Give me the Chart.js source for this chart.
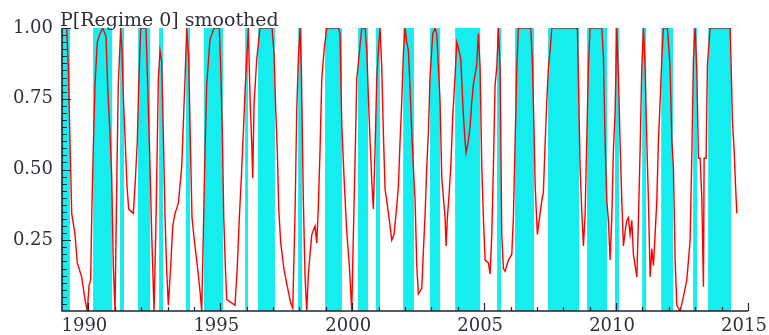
<!DOCTYPE html>
<html>
<head>
<meta charset="utf-8">
<script src="https://cdn.jsdelivr.net/npm/chart.js@4/dist/chart.umd.min.js"></script>
<style>
  html, body { margin: 0; padding: 0; background: #ffffff; }
  #wrap { width: 769px; height: 335px; position: relative; }
</style>
</head>
<body>
<div id="wrap"><canvas id="c" width="769" height="335"></canvas></div>
<script>
// ---- Data ----
const chartTitle = "P[Regime 0] smoothed";

// Smoothed probability of regime 0: time (decimal year) and value
const probYears = [
  1989.038,1989.178,1989.239,1989.303,1989.368,1989.493,1989.580,1989.747,1989.872,1989.959,
  1990.024,1990.088,1990.126,1990.187,1990.251,1990.338,1990.441,1990.543,1990.668,1990.732,
  1990.820,1990.884,1990.945,1991.009,1991.074,1991.134,1991.225,1991.274,1991.324,1991.400,
  1991.464,1991.528,1991.703,1991.779,1991.854,1991.908,1991.983,1992.184,1992.234,1992.336,
  1992.400,1992.488,1992.552,1992.601,1992.651,1992.715,1992.779,1992.840,1992.905,1992.969,
  1993.030,1993.121,1993.196,1993.284,1993.409,1993.538,1993.598,1993.663,1993.727,1993.803,
  1993.864,1993.928,1994.015,1994.129,1994.231,1994.296,1994.356,1994.421,1994.485,1994.610,
  1994.762,1994.963,1995.016,1995.077,1995.130,1995.190,1995.243,1995.558,1995.645,1995.721,
  1995.797,1995.873,1995.949,1996.002,1996.062,1996.127,1996.191,1996.229,1996.278,1996.381,
  1996.506,1996.961,1997.037,1997.101,1997.162,1997.215,1997.291,1997.416,1997.541,1997.670,
  1997.745,1997.833,1997.897,1997.958,1998.022,1998.071,1998.109,1998.147,1998.212,1998.276,
  1998.337,1998.401,1998.466,1998.591,1998.655,1998.716,1998.780,1998.845,1998.932,1999.034,
  1999.474,1999.538,1999.603,1999.690,1999.792,1999.891,1999.982,2000.043,2000.107,2000.172,
  2000.297,2000.361,2000.486,2000.551,2000.611,2000.676,2000.740,2000.801,2000.865,2000.930,
  2000.990,2001.055,2001.119,2001.180,2001.244,2001.309,2001.434,2001.498,2001.585,2001.688,
  2001.749,2001.813,2001.877,2001.938,2002.002,2002.067,2002.128,2002.192,2002.256,2002.317,
  2002.382,2002.446,2002.507,2002.636,2002.696,2002.761,2002.825,2002.886,2002.950,2003.053,
  2003.140,2003.204,2003.329,2003.394,2003.519,2003.557,2003.606,2003.670,2003.735,2003.811,
  2003.898,2003.962,2004.023,2004.114,2004.213,2004.277,2004.315,2004.402,2004.466,2004.531,
  2004.592,2004.720,2004.781,2004.846,2004.910,2004.971,2005.035,2005.160,2005.225,2005.289,
  2005.350,2005.414,2005.479,2005.539,2005.604,2005.668,2005.729,2005.793,2005.919,2006.047,
  2006.108,2006.172,2006.237,2006.298,2006.768,2006.828,2006.893,2006.931,2006.968,2007.018,
  2007.056,2007.120,2007.185,2007.245,2007.310,2007.374,2007.435,2007.499,2007.564,2008.534,
  2008.587,2008.636,2008.701,2008.762,2008.826,2008.891,2008.951,2009.015,2009.459,2009.520,
  2009.584,2009.649,2009.709,2009.774,2009.838,2009.899,2009.963,2010.028,2010.089,2010.153,
  2010.217,2010.278,2010.342,2010.407,2010.467,2010.532,2010.596,2010.657,2010.721,2010.786,
  2010.847,2010.911,2010.975,2011.036,2011.100,2011.165,2011.226,2011.290,2011.354,2011.415,
  2011.479,2011.544,2011.605,2011.669,2011.733,2011.794,2011.946,2011.984,2012.048,2012.113,
  2012.173,2012.238,2012.302,2012.427,2012.552,2012.681,2012.806,2012.871,2012.932,2012.996,
  2013.060,2013.121,2013.185,2013.250,2013.311,2013.337,2013.413,2013.462,2013.564,2014.323,
  2014.360,2014.410,2014.474,2014.524,2014.577
];
const probValues = [
  1.00,1.00,0.86,0.60,0.345,0.27,0.17,0.12,0.04,0.00,
  0.09,0.11,0.33,0.58,0.80,0.95,0.98,1.00,0.97,0.79,
  0.63,0.47,0.16,0.00,0.44,0.80,1.00,0.92,0.76,0.59,
  0.44,0.36,0.345,0.46,0.60,0.80,1.00,1.00,0.84,0.51,
  0.27,0.00,0.27,0.53,0.82,0.92,0.88,0.63,0.33,0.14,
  0.02,0.16,0.30,0.345,0.38,0.51,0.66,0.82,1.00,0.89,
  0.60,0.33,0.25,0.16,0.07,0.00,0.27,0.57,0.80,0.96,
  1.00,1.00,0.86,0.63,0.33,0.16,0.04,0.02,0.16,0.33,
  0.47,0.63,0.80,0.89,1.00,0.75,0.59,0.47,0.73,0.89,
  1.00,1.00,0.91,0.71,0.56,0.36,0.24,0.145,0.086,0.027,
  0.01,0.35,0.71,0.89,1.00,0.86,0.63,0.39,0.12,0.00,
  0.13,0.20,0.27,0.30,0.24,0.37,0.57,0.82,0.92,1.00,
  1.00,0.98,0.66,0.47,0.28,0.16,0.00,0.27,0.53,0.82,
  0.94,1.00,1.00,0.92,0.76,0.60,0.46,0.36,0.57,0.82,
  0.92,1.00,0.86,0.63,0.43,0.39,0.30,0.25,0.27,0.37,
  0.44,0.60,0.74,0.91,1.00,0.95,0.92,0.79,0.63,0.51,
  0.39,0.16,0.06,0.08,0.21,0.34,0.51,0.63,0.83,0.98,
  1.00,0.98,0.74,0.47,0.33,0.23,0.33,0.41,0.51,0.69,
  0.83,0.95,0.93,0.89,0.69,0.60,0.56,0.60,0.65,0.74,
  0.80,0.87,0.98,0.86,0.51,0.33,0.18,0.17,0.13,0.27,
  0.51,0.80,0.86,1.00,0.86,0.27,0.15,0.14,0.18,0.20,
  0.33,0.59,0.86,1.00,1.00,0.88,0.63,0.45,0.37,0.27,
  0.30,0.345,0.39,0.42,0.59,0.74,0.86,0.92,1.00,1.00,
  0.75,0.51,0.35,0.23,0.34,0.61,0.86,1.00,1.00,0.90,
  0.60,0.39,0.32,0.18,0.33,0.57,0.70,1.00,0.83,0.59,
  0.39,0.23,0.28,0.32,0.33,0.27,0.32,0.20,0.16,0.12,
  0.32,0.57,0.86,1.00,0.86,0.60,0.39,0.12,0.22,0.16,
  0.27,0.39,0.60,0.74,0.89,1.00,1.00,0.95,0.86,0.60,
  0.51,0.18,0.02,0.00,0.05,0.11,0.25,0.55,0.89,1.00,
  0.85,0.54,0.54,0.40,0.086,0.54,0.54,0.87,1.00,1.00,
  0.87,0.67,0.57,0.45,0.345
];

// Shaded periods (regime 0), start and end as decimal years
const regimeStart = [1989.00,1990.18,1991.20,1991.88,1992.68,1993.70,1994.38,1995.94,1996.43,1997.95,
                     1998.97,2000.22,2000.90,2001.93,2002.95,2003.90,2005.49,2006.17,2007.42,2008.90,
                     2009.96,2010.99,2011.71,2012.92,2013.49];
const regimeEnd   = [1989.30,1990.90,1991.35,1992.34,1992.83,1993.85,1995.10,1996.05,1997.07,1998.10,
                     1999.61,2000.60,2001.05,2002.34,2003.33,2004.85,2005.64,2006.89,2008.60,2009.66,
                     2010.11,2011.14,2012.16,2013.07,2014.36];

// Axis ticks
const xTickLabels = [1990, 1995, 2000, 2005, 2010, 2015];
const xMinorTicks = [1990,1991,1992,1993,1994,1995,1996,1997,1998,1999,2000,2001,2002,
                     2003,2004,2005,2006,2007,2008,2009,2010,2011,2012,2013,2014,2015];
const yTickLabels = [0.25, 0.50, 0.75, 1.00];
const xRange = [1989, 2015];
const yRange = [0, 1];

// ---- Build chart structures ----
const probPoints = probYears.map((x, i) => ({ x: x, y: probValues[i] }));
const shadePoints = [];
regimeStart.forEach((s, i) => {
  const e = regimeEnd[i];
  shadePoints.push({ x: s, y: 0 }, { x: s, y: 1 }, { x: e, y: 1 }, { x: e, y: 0 });
});

const FONT = "'DejaVu Serif', 'Liberation Serif', serif";
const INK = '#2e3138';

const innerTicks = {
  id: 'innerTicks',
  afterDatasetsDraw(chart) {
    const ctx = chart.ctx;
    const xs = chart.scales.x, ys = chart.scales.y;
    const area = chart.chartArea;
    ctx.save();
    ctx.strokeStyle = '#1f2430';
    // axis lines
    ctx.lineWidth = 1.6;
    ctx.beginPath();
    ctx.moveTo(area.left, area.top);
    ctx.lineTo(area.left, area.bottom);
    ctx.lineTo(area.right, area.bottom);
    ctx.stroke();
    // x ticks (pointing up into the plot)
    ctx.lineWidth = 1.2;
    ctx.beginPath();
    xMinorTicks.forEach(v => {
      const px = Math.round(xs.getPixelForValue(v)) + 0.5;
      const len = (v % 5 === 0) ? 8 : 4;
      ctx.moveTo(px, area.bottom);
      ctx.lineTo(px, area.bottom - len);
    });
    ctx.stroke();
    // y ticks (pointing right into the plot), minor every 0.025
    ctx.beginPath();
    for (let k = 1; k <= 40; k++) {
      const v = k / 40;
      const py = Math.round(ys.getPixelForValue(v)) + 0.5;
      const len = (k % 10 === 0) ? 9 : 5;
      ctx.moveTo(area.left, py);
      ctx.lineTo(area.left + len, py);
    }
    ctx.stroke();
    // title
    ctx.fillStyle = INK;
    ctx.font = '19px ' + FONT;
    ctx.textBaseline = 'alphabetic';
    ctx.textAlign = 'left';
    ctx.fillText(chartTitle, area.left - 2, area.top - 2);
    ctx.restore();
  }
};

new Chart(document.getElementById('c'), {
  type: 'scatter',
  data: {
    datasets: [
      {
        label: 'P[Regime 0] smoothed',
        data: probPoints,
        showLine: true,
        borderColor: '#ff0000',
        borderWidth: 1.4,
        pointRadius: 0,
        tension: 0,
        fill: false,
        order: 0
      },
      {
        label: 'regime 0',
        data: shadePoints,
        showLine: true,
        borderWidth: 0,
        borderColor: 'rgba(0,0,0,0)',
        backgroundColor: 'rgb(20,238,238)',
        pointRadius: 0,
        tension: 0,
        fill: 'origin',
        order: 1
      }
    ]
  },
  options: {
    responsive: false,
    devicePixelRatio: 1,
    animation: false,
    events: [],
    layout: { padding: { left: 0, right: 21, top: 28, bottom: 0 } },
    plugins: { legend: { display: false }, tooltip: { enabled: false }, title: { display: false } },
    scales: {
      x: {
        type: 'linear',
        min: xRange[0], max: xRange[1],
        grid: { display: false, drawTicks: false },
        border: { display: false },
        afterBuildTicks: (s) => { s.ticks = xTickLabels.map(v => ({ value: v })); },
        afterFit: (s) => { s.height = 24; s.paddingLeft = 0; s.paddingRight = 0; },
        ticks: {
          autoSkip: false, maxRotation: 0,
          padding: 5, labelOffset: -4,
          color: INK,
          font: { family: FONT, size: 18 },
          callback: (v) => String(v)
        }
      },
      y: {
        type: 'linear',
        min: yRange[0], max: yRange[1],
        grid: { display: false, drawTicks: false },
        border: { display: false },
        afterBuildTicks: (s) => { s.ticks = yTickLabels.map(v => ({ value: v })); },
        afterFit: (s) => { s.width = 62; s.paddingTop = 0; s.paddingBottom = 0; },
        ticks: {
          autoSkip: false,
          padding: 9,
          color: INK,
          font: { family: FONT, size: 18 },
          callback: (v) => Number(v).toFixed(2)
        }
      }
    }
  },
  plugins: [innerTicks]
});
</script>
</body>
</html>
